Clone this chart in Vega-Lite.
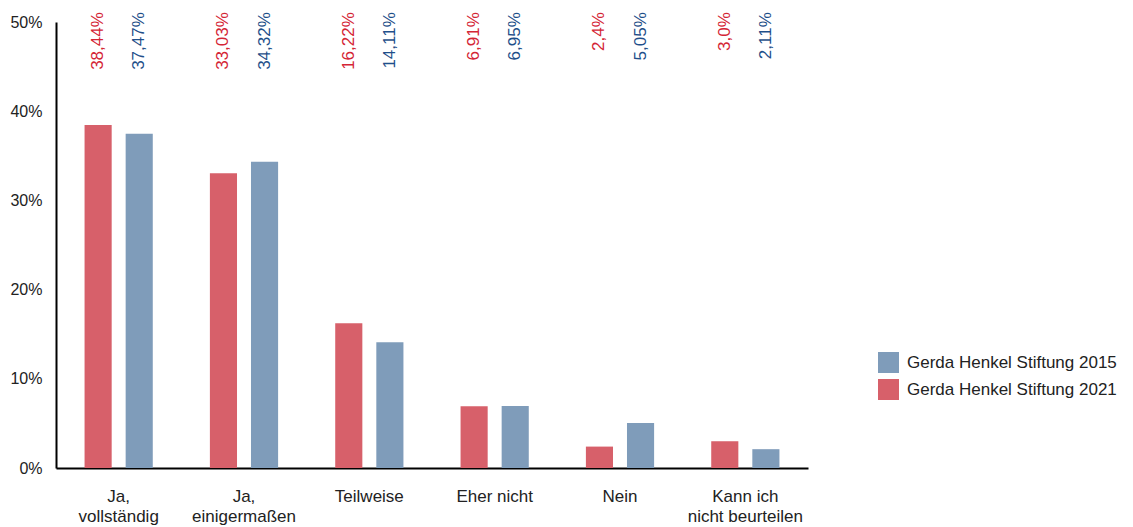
{
  "$schema": "https://vega.github.io/schema/vega-lite/v6.json",
  "width": 752,
  "height": 446,
  "autosize": {"type": "none"},
  "padding": {"left": 56, "top": 22, "right": 325, "bottom": 59},
  "background": "white",
  "config": {
    "view": {"stroke": null},
    "font": "Liberation Sans",
    "axis": {"labelFont": "Liberation Sans", "labelColor": "#222222", "labelFontSize": 16}
  },
  "data": {
    "values": [
      {"cat": "Ja,\nvollständig", "ord": 1, "series": "Gerda Henkel Stiftung 2021", "value": 38.44, "label": "38,44%"},
      {"cat": "Ja,\nvollständig", "ord": 1, "series": "Gerda Henkel Stiftung 2015", "value": 37.47, "label": "37,47%"},
      {"cat": "Ja,\neinigermaßen", "ord": 2, "series": "Gerda Henkel Stiftung 2021", "value": 33.03, "label": "33,03%"},
      {"cat": "Ja,\neinigermaßen", "ord": 2, "series": "Gerda Henkel Stiftung 2015", "value": 34.32, "label": "34,32%"},
      {"cat": "Teilweise", "ord": 3, "series": "Gerda Henkel Stiftung 2021", "value": 16.22, "label": "16,22%"},
      {"cat": "Teilweise", "ord": 3, "series": "Gerda Henkel Stiftung 2015", "value": 14.11, "label": "14,11%"},
      {"cat": "Eher nicht", "ord": 4, "series": "Gerda Henkel Stiftung 2021", "value": 6.91, "label": "6,91%"},
      {"cat": "Eher nicht", "ord": 4, "series": "Gerda Henkel Stiftung 2015", "value": 6.95, "label": "6,95%"},
      {"cat": "Nein", "ord": 5, "series": "Gerda Henkel Stiftung 2021", "value": 2.4, "label": "2,4%"},
      {"cat": "Nein", "ord": 5, "series": "Gerda Henkel Stiftung 2015", "value": 5.05, "label": "5,05%"},
      {"cat": "Kann ich\nnicht beurteilen", "ord": 6, "series": "Gerda Henkel Stiftung 2021", "value": 3.0, "label": "3,0%"},
      {"cat": "Kann ich\nnicht beurteilen", "ord": 6, "series": "Gerda Henkel Stiftung 2015", "value": 2.11, "label": "2,11%"}
    ]
  },
  "encoding": {
    "x": {
      "field": "cat",
      "type": "nominal",
      "sort": {"field": "ord"},
      "scale": {"paddingInner": 0, "paddingOuter": 0},
      "axis": {
        "title": null,
        "labelAngle": 0,
        "ticks": false,
        "domainColor": "#000000",
        "domainWidth": 2,
        "labelFontSize": 17,
        "labelPadding": 20,
        "labelLineHeight": 20,
        "labelBaseline": "top",
        "labelExpr": "split(datum.label, '\\n')"
      }
    },
    "xOffset": {
      "field": "series",
      "type": "nominal",
      "sort": ["Gerda Henkel Stiftung 2021", "Gerda Henkel Stiftung 2015"],
      "scale": {"paddingInner": 0.34, "paddingOuter": 0.695}
    }
  },
  "layer": [
    {
      "mark": {"type": "bar"},
      "encoding": {
        "y": {
          "field": "value",
          "type": "quantitative",
          "scale": {"domain": [0, 50], "nice": false},
          "axis": {
            "title": null,
            "values": [0, 10, 20, 30, 40, 50],
            "grid": false,
            "ticks": false,
            "domainColor": "#000000",
            "domainWidth": 2,
            "labelPadding": 14,
            "labelExpr": "datum.value + '%'"
          }
        },
        "color": {
          "field": "series",
          "type": "nominal",
          "scale": {
            "domain": ["Gerda Henkel Stiftung 2015", "Gerda Henkel Stiftung 2021"],
            "range": ["#7f9cba", "#d7606a"]
          },
          "legend": {
            "title": null,
            "orient": "none",
            "legendX": 822,
            "legendY": 330,
            "symbolType": "square",
            "symbolSize": 441,
            "symbolStrokeWidth": 0,
            "symbolOpacity": 1,
            "labelFontSize": 17,
            "labelLimit": 0,
            "labelColor": "#222222",
            "labelOffset": 8,
            "rowPadding": 6,
            "padding": 0
          }
        }
      }
    },
    {
      "mark": {"type": "text", "angle": 270, "align": "right", "baseline": "middle", "fontSize": 17},
      "encoding": {
        "y": {"datum": 51.1, "type": "quantitative"},
        "text": {"field": "label"},
        "color": {
          "field": "series",
          "type": "nominal",
          "scale": {
            "domain": ["Gerda Henkel Stiftung 2015", "Gerda Henkel Stiftung 2021"],
            "range": ["#1f4f8a", "#d42535"]
          },
          "legend": null
        }
      }
    }
  ],
  "resolve": {"scale": {"color": "independent"}}
}
